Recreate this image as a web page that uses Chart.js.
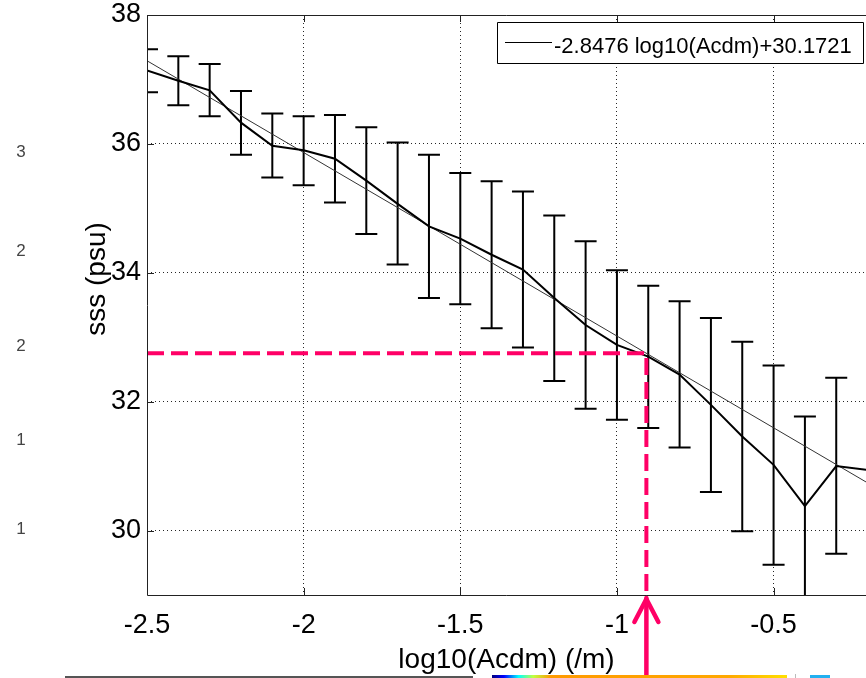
<!DOCTYPE html>
<html><head><meta charset="utf-8">
<script src="https://cdn.jsdelivr.net/npm/chart.js@4.4.0/dist/chart.umd.min.js"></script>
<style>html,body{margin:0;padding:0;background:#fff;overflow:hidden}#wrap{width:866px;height:678px;position:relative}</style>
</head><body><div id="wrap"><canvas id="c" width="866" height="678"></canvas></div>
<script>
const xValues  = [-2.5,-2.4,-2.3,-2.2,-2.1,-2.0,-1.9,-1.8,-1.7,-1.6,-1.5,-1.4,-1.3,-1.2,-1.1,-1.0,-0.9,-0.8,-0.7,-0.6,-0.5,-0.4,-0.3,-0.2];
const meanSss  = [37.14,36.98,36.83,36.33,35.97,35.90,35.77,35.43,35.07,34.72,34.53,34.28,34.05,33.61,33.19,32.88,32.70,32.42,31.95,31.46,31.02,30.38,31.00,30.94];
const upperSss = [37.47,37.36,37.24,36.82,36.47,36.43,36.45,36.26,36.02,35.83,35.55,35.42,35.26,34.89,34.49,34.04,33.80,33.56,33.30,32.93,32.56,31.77,32.37,null];
const lowerSss = [36.80,36.60,36.43,35.83,35.48,35.36,35.09,34.60,34.13,33.61,33.51,33.14,32.84,32.32,31.89,31.72,31.59,31.29,30.60,29.99,29.47,28.98,29.64,null];
const fitX = [-2.5, -0.2];
const fitY = [37.29, 30.74];
const markerX = [-2.5, -0.906, -0.906];
const markerY = [32.75, 32.75, 29];
const xTickValues = [-2.5, -2, -1.5, -1, -0.5];
const yTickValues = [30, 32, 34, 36, 38];
const legendText = '-2.8476 log10(Acdm)+30.1721';
const xTitle = 'log10(Acdm) (/m)';
const yTitle = 'sss (psu)';
const sideLabels = ['3', '2', '2', '1', '1'];

const FONT = "'Liberation Sans', Arial, Helvetica, sans-serif";
const PINK = 'rgb(255,0,102)';
Chart.defaults.font.family = FONT;

const decor = {
  id: 'decor',
  beforeDatasetsDraw(chart) {
    const {ctx, chartArea: a, scales: {x, y}} = chart;
    ctx.save();
    ctx.beginPath(); ctx.rect(a.left, a.top, a.right - a.left, a.bottom - a.top); ctx.clip();
    ctx.strokeStyle = '#000'; ctx.lineWidth = 2; ctx.lineCap = 'butt';
    xValues.forEach((xv, i) => {
      if (upperSss[i] == null) return;
      const px = x.getPixelForValue(xv);
      const pt = y.getPixelForValue(upperSss[i]);
      const pb = y.getPixelForValue(lowerSss[i]);
      ctx.beginPath();
      ctx.moveTo(px, pt); ctx.lineTo(px, pb);
      ctx.moveTo(px - 11, pt); ctx.lineTo(px + 11, pt);
      ctx.moveTo(px - 11, pb); ctx.lineTo(px + 11, pb);
      ctx.stroke();
    });
    ctx.restore();
  },
  afterDraw(chart) {
    const {ctx, chartArea: a, scales: {x, y}} = chart;
    ctx.save();
    // axes box
    ctx.strokeStyle = '#222'; ctx.lineWidth = 1;
    ctx.beginPath();
    ctx.moveTo(a.left + 0.5, a.bottom + 0.5); ctx.lineTo(a.left + 0.5, a.top + 0.5); ctx.lineTo(a.right, a.top + 0.5);
    ctx.moveTo(a.left + 0.5, a.bottom + 0.5); ctx.lineTo(a.right, a.bottom + 0.5);
    // inward ticks
    yTickValues.forEach(v => { const py = Math.round(y.getPixelForValue(v)) + 0.5; ctx.moveTo(a.left, py); ctx.lineTo(a.left + 7, py); });
    xTickValues.forEach(v => { const px = Math.round(x.getPixelForValue(v)) + 0.5; ctx.moveTo(px, a.bottom); ctx.lineTo(px, a.bottom - 7); ctx.moveTo(px, a.top); ctx.lineTo(px, a.top + 7); });
    ctx.stroke();

    // y axis title (positioned as in the reference figure)
    ctx.save();
    ctx.translate(97, (a.top + a.bottom) / 2 - 26);
    ctx.rotate(-Math.PI / 2);
    ctx.fillStyle = '#000'; ctx.font = '28px ' + FONT; ctx.textAlign = 'center'; ctx.textBaseline = 'middle';
    ctx.fillText(yTitle, 0, 0);
    ctx.restore();

    // arrow below the axis
    const ax = x.getPixelForValue(markerX[1]);
    ctx.strokeStyle = PINK; ctx.lineWidth = 4.5; ctx.lineCap = 'round'; ctx.lineJoin = 'round';
    ctx.beginPath(); ctx.moveTo(ax, a.bottom + 3); ctx.lineTo(ax, chart.height + 5); ctx.stroke();
    ctx.beginPath(); ctx.moveTo(ax - 12, a.bottom + 27); ctx.lineTo(ax, a.bottom + 4); ctx.lineTo(ax + 12, a.bottom + 27); ctx.stroke();

    // legend
    const lx = 497, ly = 22, lw = 366, lh = 41;
    ctx.fillStyle = '#fff'; ctx.fillRect(lx, ly, lw, lh);
    ctx.strokeStyle = '#000'; ctx.lineWidth = 1; ctx.lineCap = 'butt';
    ctx.strokeRect(lx + 0.5, ly + 0.5, lw, lh);
    ctx.beginPath(); ctx.moveTo(lx + 8, ly + 20.5); ctx.lineTo(lx + 55, ly + 20.5); ctx.stroke();
    ctx.fillStyle = '#000'; ctx.font = '22px ' + FONT; ctx.textBaseline = 'alphabetic'; ctx.textAlign = 'left';
    ctx.fillText(legendText, lx + 57, ly + 31);

    // cropped neighbouring-figure remnants
    ctx.fillStyle = '#444'; ctx.font = '17px ' + FONT; ctx.textAlign = 'center'; ctx.textBaseline = 'middle';
    [152, 251, 346, 440, 529].forEach((py, i) => ctx.fillText(sideLabels[i], 21, py));
    ctx.fillStyle = '#555'; ctx.fillRect(65, 676, 408, 2);
    const g = ctx.createLinearGradient(492, 0, 787, 0);
    g.addColorStop(0, '#00007f'); g.addColorStop(0.04, '#0000ff'); g.addColorStop(0.09, '#00ffff');
    g.addColorStop(0.14, '#c0ff40'); g.addColorStop(0.2, '#ff9a00'); g.addColorStop(0.8, '#ffa800'); g.addColorStop(1, '#ffe000');
    ctx.fillStyle = g; ctx.fillRect(492, 675, 295, 3);
    ctx.fillStyle = '#bbb'; ctx.fillRect(795, 674, 1, 4);
    ctx.fillStyle = '#22b0f0'; ctx.fillRect(810, 675, 20, 3);
    ctx.restore();
  }
};

new Chart(document.getElementById('c'), {
  type: 'line',
  data: {
    datasets: [
      { label: 'marker', data: markerX.map((v, i) => ({x: v, y: markerY[i]})), borderColor: PINK, borderWidth: 4,
        borderDash: [17, 7], borderCapStyle: 'butt', borderJoinStyle: 'miter', pointRadius: 0, tension: 0, order: 0 },
      { label: 'mean', data: xValues.map((v, i) => ({x: v, y: meanSss[i]})), borderColor: '#000', borderWidth: 2,
        pointRadius: 0, tension: 0, order: 1 },
      { label: legendText, data: fitX.map((v, i) => ({x: v, y: fitY[i]})), borderColor: '#333', borderWidth: 1,
        pointRadius: 0, tension: 0, order: 2 }
    ]
  },
  options: {
    responsive: false, animation: false, devicePixelRatio: 1,
    layout: {padding: {top: 15, left: 0, right: 0, bottom: 0}},
    plugins: {legend: {display: false}, tooltip: {enabled: false}},
    scales: {
      x: {
        type: 'linear', min: -2.5, max: -0.205,
        afterBuildTicks: s => { s.ticks = xTickValues.map(v => ({value: v})); },
        afterFit: s => { s.height = 83; s.paddingLeft = 0; s.paddingRight = 0; },
        grid: {color: 'rgba(0,0,0,0.85)', lineWidth: 1, drawTicks: false},
        border: {display: false, dash: [1, 3]},
        ticks: {color: '#000', font: {size: 27}, padding: 14, maxRotation: 0, callback: v => String(v)},
        title: {display: true, text: xTitle, color: '#000', font: {size: 28, lineHeight: 1.2}, padding: {top: 0, bottom: 1}}
      },
      y: {
        type: 'linear', min: 29, max: 38,
        afterBuildTicks: s => { s.ticks = yTickValues.map(v => ({value: v})); },
        afterFit: s => { s.width = 147; s.paddingTop = 0; s.paddingBottom = 0; },
        grid: {color: 'rgba(0,0,0,0.85)', lineWidth: 1, drawTicks: false},
        border: {display: false, dash: [1, 3]},
        ticks: {color: '#000', font: {size: 27}, padding: 6, callback: v => String(v)},
        title: {display: false, text: yTitle}
      }
    }
  },
  plugins: [decor]
});
</script></body></html>
